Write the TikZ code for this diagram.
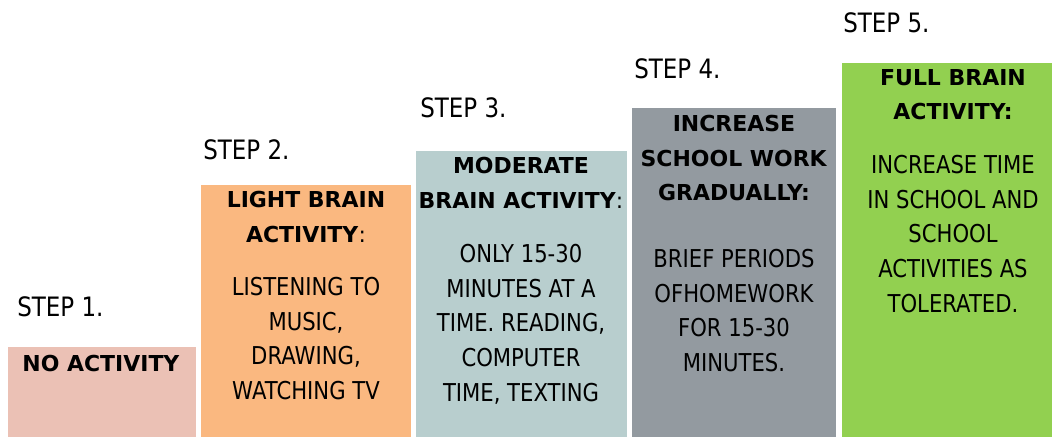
\documentclass[tikz,border=0pt]{standalone}
\usepackage{fontspec}
\setmainfont{DejaVu Sans}
\newfontfamily\narrowfont[FakeStretch=0.86]{DejaVu Sans}
\usetikzlibrary{positioning}

\definecolor{stepone}{HTML}{EBC1B5}
\definecolor{steptwo}{HTML}{FAB880}
\definecolor{stepthree}{HTML}{B8CECE}
\definecolor{stepfour}{HTML}{939AA0}
\definecolor{stepfive}{HTML}{92D050}

\tikzset{
  steplabel/.style={anchor=west, inner sep=0pt, font=\narrowfont\fontsize{15.2}{18}\selectfont},
  headtext/.style={anchor=north, inner sep=0pt, align=center, font=\fontsize{12.5}{19.7}\selectfont},
  bodytext/.style={anchor=north, inner sep=0pt, align=center, font=\narrowfont\fontsize{14}{19.7}\selectfont},
}

\begin{document}
\begin{tikzpicture}[x=0.02cm, y=-0.02cm]
\useasboundingbox (0,0) rectangle (1052,437);

% the five steps, each one higher than the last
\fill[stepone]   (8,347)   rectangle (196,437);
\fill[steptwo]   (201,185) rectangle (411,437);
\fill[stepthree] (416,151) rectangle (627,437);
\fill[stepfour]  (632,108) rectangle (836,437);
\fill[stepfive]  (842,63)  rectangle (1052,437);

% step numbers above the boxes
\node[steplabel] (l1) at (17,307) {STEP 1.};
\node[steplabel] (l2) at (203,150) {STEP 2.};
\node[steplabel] (l3) at (420,108) {STEP 3.};
\node[steplabel] (l4) at (634,69) {STEP 4.};
\node[steplabel] (l5) at (843,23) {STEP 5.};

% step 1
\node[headtext] (h1) at (101,355) {\textbf{NO ACTIVITY}};

% step 2
\node[headtext] (h2) at (306,191) {\textbf{LIGHT BRAIN}\\\textbf{ACTIVITY}:};
\node[bodytext] (b2) at (306,277) {LISTENING TO\\MUSIC,\\DRAWING,\\WATCHING TV};

% step 3
\node[headtext] (h3) at (521,157) {\textbf{MODERATE}\\\textbf{BRAIN ACTIVITY}:};
\node[bodytext] (b3) at (521,244) {ONLY 15-30\\MINUTES AT A\\TIME. READING,\\COMPUTER\\TIME, TEXTING};

% step 4
\node[headtext] (h4) at (734,115) {\textbf{INCREASE}\\\textbf{SCHOOL WORK}\\\textbf{GRADUALLY:}};
\node[bodytext] (b4) at (734,249) {BRIEF PERIODS\\OFHOMEWORK\\FOR 15-30\\MINUTES.};

% step 5
\node[headtext] (h5) at (953,69) {\textbf{FULL BRAIN}\\\textbf{ACTIVITY:}};
\node[bodytext] (b5) at (953,155) {INCREASE TIME\\IN SCHOOL AND\\SCHOOL\\ACTIVITIES AS\\TOLERATED.};
\end{tikzpicture}
\end{document}
